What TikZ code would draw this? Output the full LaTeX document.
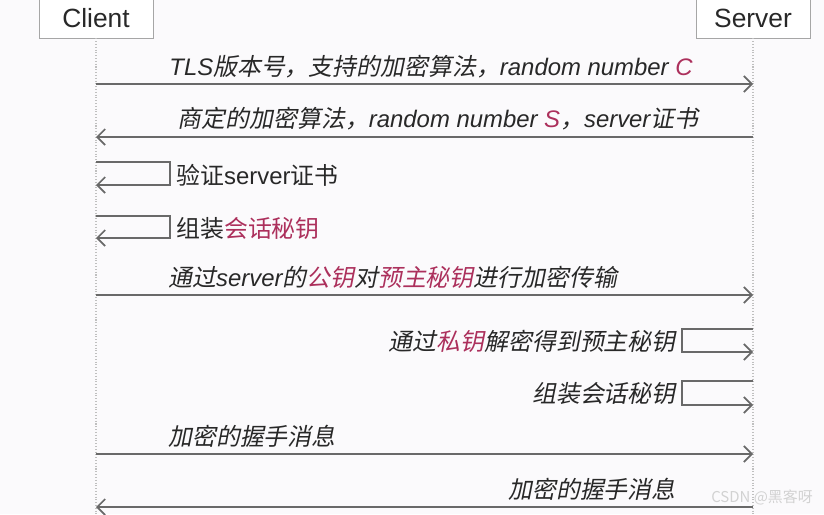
\documentclass[tikz,border=0pt]{standalone}
\usepackage{fontspec}
\setmainfont{Liberation Sans}
\newfontfamily\zh{Noto Sans CJK SC}
\newfontfamily\zhit[FakeSlant=0.2]{Noto Sans CJK SC}
\usepackage{xcolor}
\usetikzlibrary{arrows.meta}

\definecolor{ink}{RGB}{40,40,40}
\definecolor{keyred}{RGB}{172,48,92}
\definecolor{wire}{RGB}{105,105,105}
\definecolor{paper}{RGB}{251,250,252}
\newcommand{\keyhl}[1]{\textcolor{keyred}{#1}}

\begin{document}
\begin{tikzpicture}[x=0.02cm, y=-0.02cm,
    actor/.style={draw=gray!70, fill=white, minimum width=2.28cm, minimum height=0.8cm, font=\fontsize{15}{18}\selectfont, text=ink},
    lifeline/.style={draw=gray!50, densely dotted, line width=0.6pt},
    msg/.style={draw=wire, line width=0.8pt, -{Straight Barb[length=4.5pt,width=9pt,line width=1pt]}},
    lbl/.style={font=\fontsize{13.6}{16}\selectfont, text=ink, inner sep=0pt},
    wmark/.style={font=\fontsize{8.5}{10}\selectfont\zh, text=gray!35, inner sep=0pt}
]
    % background and frame of the picture
    \fill[paper] (0,0) rectangle (824,514);
    \useasboundingbox (0,0) rectangle (824,514);

    % the two parties
    \node[actor] (client) at (96,18) {Client};
    \node[actor] (server) at (753,18) {Server};
    \draw[lifeline] (client.south) -- (client |- 0,514);
    \draw[lifeline] (server.south) -- (server |- 0,514);

    % hello
    \node[lbl, anchor=base] (hello) at (431,75) {\itshape TLS{\zhit 版本号，支持的加密算法，}random number \keyhl{C}};
    \draw[msg] (client |- 0,84) -- (server |- 0,84);

    % server reply
    \node[lbl, anchor=base] (reply) at (438,127) {\itshape{\zhit 商定的加密算法，}random number \keyhl{S}{\zhit ，}server{\zhit 证书}};
    \draw[msg] (server |- 0,137) -- (client |- 0,137);

    % client side work
    \draw[msg] (client |- 0,162) -- (170,162) |- (client |- 0,185);
    \node[lbl, anchor=west] (verify) at (176,175) {{\zh 验证}server{\zh 证书}};
    \draw[msg] (client |- 0,216) -- (170,216) |- (client |- 0,238);
    \node[lbl, anchor=west] (keyc) at (176,228) {\zh 组装\keyhl{会话秘钥}};

    % premaster secret
    \node[lbl, anchor=base west] (premaster) at (168,286) {\zhit 通过{\itshape\rmfamily server}的\keyhl{公钥}对\keyhl{预主秘钥}进行加密传输};
    \draw[msg] (client |- 0,295) -- (server |- 0,295);

    % server side work
    \draw[msg] (server |- 0,329) -- (682,329) |- (server |- 0,352);
    \node[lbl, anchor=east] (decrypt) at (676,341) {\zhit 通过\keyhl{私钥}解密得到预主秘钥};
    \draw[msg] (server |- 0,381) -- (682,381) |- (server |- 0,405);
    \node[lbl, anchor=east] (keys) at (676,393) {\zhit 组装会话秘钥};

    % finished messages
    \node[lbl, anchor=base west] (finc) at (168,445) {\zhit 加密的握手消息};
    \draw[msg] (client |- 0,454) -- (server |- 0,454);
    \node[lbl, anchor=base east] (fins) at (676,498) {\zhit 加密的握手消息};
    \draw[msg] (server |- 0,507) -- (client |- 0,507);

    \node[wmark] (csdn) at (762,497) {CSDN @黑客呀};
\end{tikzpicture}
\end{document}
